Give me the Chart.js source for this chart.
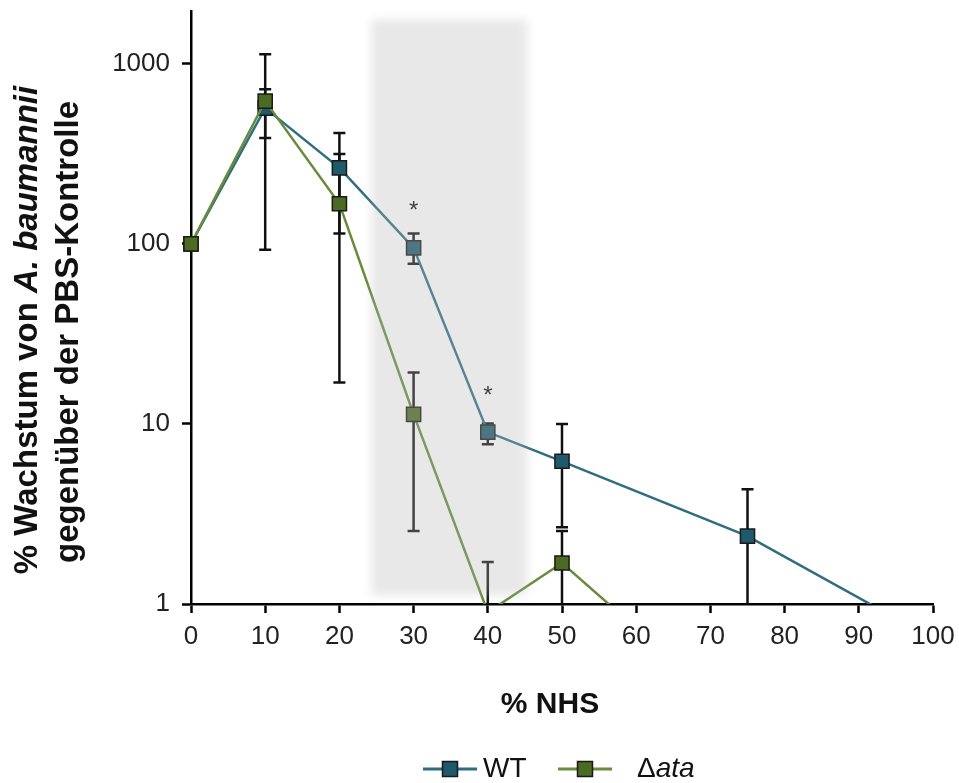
<!DOCTYPE html>
<html>
<head>
<meta charset="utf-8">
<script src="https://cdn.jsdelivr.net/npm/chart.js@4.4.0/dist/chart.umd.min.js"></script>
<style>
  body { margin: 0; background: #fff; }
  #wrap { width: 959px; height: 783px; }
</style>
</head>
<body>
<div id="wrap"><canvas id="growthChart"></canvas></div>
<script>
// % NHS concentrations
const nhsPercent = [0, 10, 20, 30, 40, 50, 75, 100];

// WT growth (% of PBS control) with error bar ends
const wtGrowth = [100, 567, 264, 95, 9.0, 6.2, 2.38, 0.64];
const wtLow    = [null, 387, 114, 77.5, 7.7, 2.67, 0.5, null];
const wtHigh   = [null, 1130, 412, 114, 10.05, 10, 4.34, null];

// delta-ata growth
const ataGrowth = [100, 620, 167, 11.3, 0.9, 1.69, 0.21, null];
const ataLow    = [null, 92.6, 17, 2.54, null, 0.4, null, null];
const ataHigh   = [null, 722, 315, 19.3, 1.71, 2.54, null, null];

// significance marks above WT
const wtSig = ['', '', '', '*', '*', '', '', ''];

const yTickValues = [1, 10, 100, 1000];
const shadeRange = [24.3, 45.3];

const FONT = "'Liberation Sans', Arial, sans-serif";
const WT_LINE = '#2f6e80';
const WT_FILL = '#1e5a6b';
const ATA_LINE = '#6a8a3c';
const ATA_FILL = '#4d6a22';

function toPoints(values) {
  return nhsPercent.map((x, i) => ({ x: x, y: values[i] })).filter(p => p.y !== null);
}

const errorBars = {
  id: 'errorBars',
  beforeDatasetsDraw(chart) {
    const { ctx, chartArea: a, scales: { x, y } } = chart;
    ctx.save();
    ctx.beginPath();
    ctx.rect(a.left, a.top, a.right - a.left, a.bottom - a.top);
    ctx.clip();
    ctx.strokeStyle = '#111';
    ctx.lineWidth = 2.5;
    [[wtGrowth, wtLow, wtHigh], [ataGrowth, ataLow, ataHigh]].forEach(([mid, lo, hi]) => {
      nhsPercent.forEach((v, i) => {
        if (hi[i] === null && lo[i] === null) return;
        const px = x.getPixelForValue(v);
        const top = y.getPixelForValue(hi[i] !== null ? hi[i] : mid[i]);
        const bot = y.getPixelForValue(lo[i] !== null ? lo[i] : mid[i]);
        ctx.beginPath();
        ctx.moveTo(px, top); ctx.lineTo(px, bot);
        if (hi[i] !== null) { ctx.moveTo(px - 6, top); ctx.lineTo(px + 6, top); }
        if (lo[i] !== null) { ctx.moveTo(px - 6, bot); ctx.lineTo(px + 6, bot); }
        ctx.stroke();
      });
    });
    ctx.restore();
  },
  afterDatasetsDraw(chart) {
    const { ctx, chartArea: a, scales: { x, y } } = chart;
    // grey band over 24-45 % NHS
    const x0 = x.getPixelForValue(shadeRange[0]);
    const x1 = x.getPixelForValue(shadeRange[1]);
    ctx.save();
    ctx.filter = 'blur(5px)';
    ctx.fillStyle = 'rgba(180,180,180,0.31)';
    ctx.fillRect(x0, a.top + 8, x1 - x0, a.bottom - a.top - 17);
    ctx.restore();
    // asterisks
    ctx.save();
    ctx.fillStyle = '#444';
    ctx.font = '24px ' + FONT;
    ctx.textAlign = 'center';
    ctx.textBaseline = 'middle';
    wtSig.forEach((s, i) => {
      if (!s) return;
      ctx.fillText(s, x.getPixelForValue(nhsPercent[i]), y.getPixelForValue(wtGrowth[i] * 1.65) + 3);
    });
    ctx.restore();
  },
  afterDraw(chart) {
    const ctx = chart.ctx;
    ctx.save();
    ctx.fillStyle = '#111';
    ctx.textBaseline = 'alphabetic';

    // y title, two rotated lines
    const drawRuns = (runs, cx, cy) => {
      ctx.save();
      ctx.translate(cx, cy);
      ctx.rotate(-Math.PI / 2);
      let total = 0;
      runs.forEach(r => { ctx.font = r[1]; total += ctx.measureText(r[0]).width; });
      let pos = -total / 2;
      runs.forEach(r => {
        ctx.font = r[1];
        ctx.fillText(r[0], pos, 0);
        pos += ctx.measureText(r[0]).width;
      });
      ctx.restore();
    };
    drawRuns([['% Wachstum von ', 'bold 33px ' + FONT], ['A. baumannii', 'italic bold 33px ' + FONT]], 37, 330);
    drawRuns([['gegenüber der PBS-Kontrolle', 'bold 33px ' + FONT]], 78, 332);

    // x title
    ctx.font = 'bold 30px ' + FONT;
    ctx.textAlign = 'center';
    ctx.fillText('% NHS', 550, 713);

    // legend
    const legendItem = (x0, x1, line, fill) => {
      ctx.strokeStyle = line;
      ctx.lineWidth = 3;
      ctx.beginPath();
      ctx.moveTo(x0, 769); ctx.lineTo(x1, 769);
      ctx.stroke();
      const mx = (x0 + x1) / 2;
      ctx.fillStyle = fill;
      ctx.fillRect(mx - 7.5, 761.5, 15, 15);
      ctx.strokeStyle = '#1a1a1a';
      ctx.lineWidth = 1.5;
      ctx.strokeRect(mx - 7.5, 761.5, 15, 15);
    };
    legendItem(423, 477, WT_LINE, WT_FILL);
    legendItem(558, 612, ATA_LINE, ATA_FILL);
    ctx.fillStyle = '#111';
    ctx.textAlign = 'left';
    ctx.font = '28px ' + FONT;
    ctx.fillText('WT', 483, 777);
    ctx.fillText('\u0394', 637, 777);
    const dw = ctx.measureText('\u0394').width;
    ctx.font = 'italic 28px ' + FONT;
    ctx.fillText('ata', 637 + dw, 777);
    ctx.restore();
  }
};

const axisGrid = {
  display: true,
  drawOnChartArea: false,
  drawTicks: true,
  tickLength: 9,
  tickColor: '#000',
  tickWidth: 2.5
};

new Chart(document.getElementById('growthChart'), {
  type: 'line',
  data: {
    datasets: [{
      label: 'WT',
      data: toPoints(wtGrowth),
      borderColor: WT_LINE,
      backgroundColor: WT_FILL,
      pointBackgroundColor: WT_FILL,
      pointBorderColor: '#1a1a1a',
      pointBorderWidth: 1.5,
      pointStyle: 'rect',
      pointRadius: 10,
      borderWidth: 2.5,
      tension: 0,
      order: 1,
      clip: { left: 20, top: 0, right: 0, bottom: 0 }
    }, {
      label: '\u0394ata',
      data: toPoints(ataGrowth),
      borderColor: ATA_LINE,
      backgroundColor: ATA_FILL,
      pointBackgroundColor: ATA_FILL,
      pointBorderColor: '#1a1a1a',
      pointBorderWidth: 1.5,
      pointStyle: 'rect',
      pointRadius: 10,
      borderWidth: 2.5,
      tension: 0,
      order: 0,
      clip: { left: 20, top: 0, right: 0, bottom: 0 }
    }]
  },
  options: {
    responsive: true,
    maintainAspectRatio: false,
    animation: false,
    layout: { padding: { left: 0, right: 26, top: 10, bottom: 0 } },
    plugins: { legend: { display: false }, tooltip: { enabled: false } },
    scales: {
      x: {
        type: 'linear',
        min: 0,
        max: 100,
        ticks: { stepSize: 10, color: '#222', font: { family: FONT, size: 26 }, padding: 8, maxRotation: 0 },
        grid: axisGrid,
        border: { color: '#000', width: 2.5 },
        afterFit: s => { s.height = 179; s.paddingLeft = 0; s.paddingRight = 0; }
      },
      y: {
        type: 'logarithmic',
        min: 1,
        max: 1950,
        afterBuildTicks: s => { s.ticks = yTickValues.map(v => ({ value: v })); },
        ticks: { color: '#222', font: { family: FONT, size: 26 }, padding: 12, callback: v => String(v) },
        grid: axisGrid,
        border: { color: '#000', width: 2.5 },
        afterFit: s => { s.width = 191; s.paddingTop = 0; s.paddingBottom = 0; }
      }
    }
  },
  plugins: [errorBars]
});
</script>
</body>
</html>
